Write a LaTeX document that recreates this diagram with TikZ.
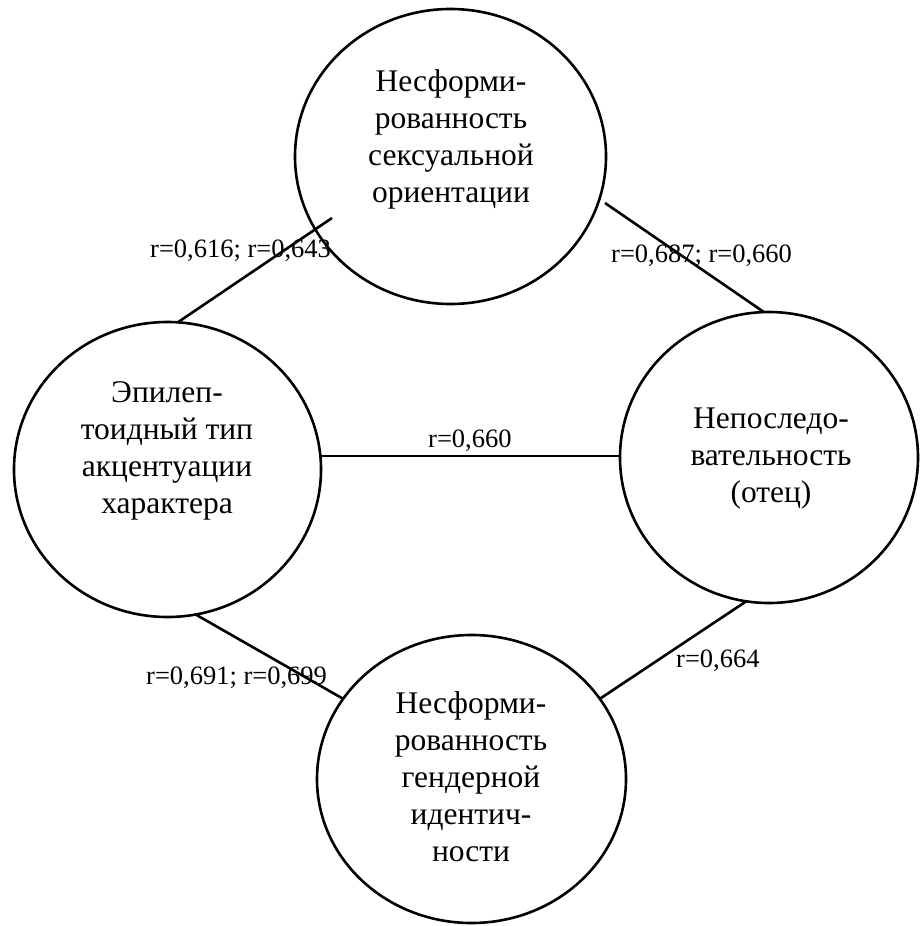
\documentclass[tikz,border=0pt]{standalone}
\usepackage{fontspec}
\setmainfont{Liberation Serif}
\usetikzlibrary{shapes.geometric}
\begin{document}
\begin{tikzpicture}[x=1pt,y=-1pt,
  circ/.style={ellipse,draw,line width=2.6pt,inner sep=0pt,outer sep=0pt},
  ctext/.style={anchor=base,inner sep=0pt,font=\fontsize{31.5}{37}\selectfont},
  lab/.style={anchor=base west,inner sep=0pt,font=\fontsize{26.5}{30}\selectfont},
  conn/.style={line width=2.6pt}]
\useasboundingbox (0,0) rectangle (919,926);
% circles
\node[circ,minimum width=311pt,minimum height=295pt] (T) at (450.5,156.5) {};
\node[circ,minimum width=307pt,minimum height=295pt] (L) at (167.5,469.5) {};
\node[circ,minimum width=298pt,minimum height=291pt] (R) at (769,457.5) {};
\node[circ,minimum width=309pt,minimum height=288pt] (B) at (471.5,779) {};
% texts
\node[ctext] (Tt) at (451,91) {\begin{tabular}[t]{@{}c@{}}Несформи-\\рованность\\сексуальной\\ориентации\end{tabular}};
\node[ctext] (Lt) at (167,402) {\begin{tabular}[t]{@{}c@{}}Эпилеп-\\тоидный тип\\акцентуации\\характера\end{tabular}};
\node[ctext] (Rt) at (771,428) {\begin{tabular}[t]{@{}c@{}}Непоследо-\\вательность\\(отец)\end{tabular}};
\node[ctext] (Bt) at (471,713) {\begin{tabular}[t]{@{}c@{}}Несформи-\\рованность\\гендерной\\идентич-\\ности\end{tabular}};
% connectors
\coordinate (tl) at (332,218);
\coordinate (tr) at (605,203);
\draw[conn] (L.86) -- (tl);
\draw[conn] (tr) -- (R.92);
\draw[conn] (L.5) -- (R.west |- L.5);
\draw[conn] (L.281) -- (B.148);
\draw[conn] (R.261) -- (B.32);
% labels
\node[lab] (l1) at (150,257) {r=0,616; r=0,643};
\node[lab] (l2) at (611,262) {r=0,687; r=0,660};
\node[lab] (l3) at (428,447) {r=0,660};
\node[lab] (l4) at (146,684) {r=0,691; r=0,699};
\node[lab] (l5) at (676,667) {r=0,664};
\end{tikzpicture}
\end{document}
